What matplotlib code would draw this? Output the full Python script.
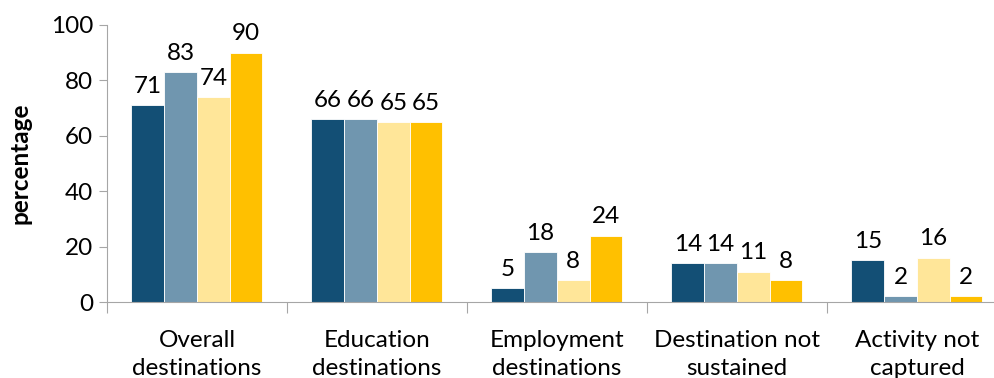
import numpy as np
import matplotlib.pyplot as plt

plt.rcParams['font.family'] = ['Lato', 'DejaVu Sans']

categories = ['Overall\ndestinations', 'Education\ndestinations', 'Employment\ndestinations',
              'Destination not\nsustained', 'Activity not\ncaptured']
series_a = [71, 66, 5, 14, 15]
series_b = [83, 66, 18, 14, 2]
series_c = [74, 65, 8, 11, 16]
series_d = [90, 65, 24, 8, 2]
colors = ['#134F75', '#7096AF', '#FFE699', '#FFC000']

fig = plt.figure(figsize=(9.95, 3.78), dpi=100)
ax = fig.add_axes([0.1075, 0.201, 0.9045, 0.733])

x = np.arange(len(categories))
w = 0.182
all_series = [series_a, series_b, series_c, series_d]
for i, (vals, c) in enumerate(zip(all_series, colors)):
    pos = x + (i - 1.5) * w
    ax.bar(pos, vals, width=w, color=c, edgecolor='white', linewidth=0.6)
    for p, v in zip(pos, vals):
        ax.annotate(str(v), (p, v), xytext=(0, 6), textcoords='offset points',
                    ha='center', va='bottom', fontsize=17.5)

ax.set_xlim(-0.5, len(categories) - 0.5)
ax.set_ylim(0, 100)
ax.set_yticks(range(0, 101, 20))
ax.tick_params(axis='y', labelsize=17.5, length=6, color='#A6A6A6', pad=4)

# category names under the groups, ticks on the group boundaries
ax.set_xticks(np.arange(-0.5, len(categories)), minor=False)
ax.set_xticklabels([])
ax.set_xticks(x, minor=True)
ax.set_xticklabels(categories, minor=True, fontsize=17.5, linespacing=1.4)
ax.tick_params(axis='x', which='minor', length=0, pad=20)
ax.tick_params(axis='x', which='major', length=8, color='#A6A6A6')

for s in ['top', 'right']:
    ax.spines[s].set_visible(False)
for s in ['left', 'bottom']:
    ax.spines[s].set_color('#A6A6A6')

ax.set_ylabel('percentage', fontsize=17.5, fontweight='bold', labelpad=14)

fig.savefig('out.png', dpi=100)
